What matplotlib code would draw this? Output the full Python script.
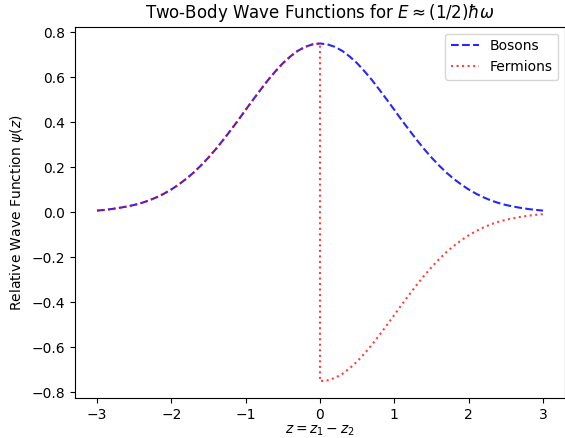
import matplotlib
matplotlib.use("Agg")
import matplotlib.pyplot as plt

# relative coordinate z = z1 - z2, values at 0.1 steps
z_left = [-3.0, -2.9, -2.8, -2.7, -2.6, -2.5, -2.4, -2.3, -2.2, -2.1, -2.0,
          -1.9, -1.8, -1.7, -1.6, -1.5, -1.4, -1.3, -1.2, -1.1, -1.0,
          -0.9, -0.8, -0.7, -0.6, -0.5, -0.4, -0.3, -0.2, -0.1, 0.0]
z_right = [0.0, 0.1, 0.2, 0.3, 0.4, 0.5, 0.6, 0.7, 0.8, 0.9, 1.0,
           1.1, 1.2, 1.3, 1.4, 1.5, 1.6, 1.7, 1.8, 1.9, 2.0,
           2.1, 2.2, 2.3, 2.4, 2.5, 2.6, 2.7, 2.8, 2.9, 3.0]

# symmetric (boson) wave function
psi_left = [0.008, 0.011, 0.015, 0.020, 0.026, 0.033, 0.042, 0.053, 0.067, 0.083, 0.102,
            0.124, 0.149, 0.177, 0.209, 0.244, 0.282, 0.323, 0.366, 0.410, 0.456,
            0.501, 0.545, 0.588, 0.627, 0.663, 0.693, 0.718, 0.736, 0.747, 0.751]
psi_right = [0.751, 0.747, 0.736, 0.718, 0.693, 0.663, 0.627, 0.588, 0.545, 0.501, 0.456,
             0.410, 0.366, 0.323, 0.282, 0.244, 0.209, 0.177, 0.149, 0.124, 0.102,
             0.083, 0.067, 0.053, 0.042, 0.033, 0.026, 0.020, 0.015, 0.011, 0.008]

# antisymmetric (fermion) wave function: same left half, flipped right half
fermion_right = [-0.751, -0.747, -0.736, -0.718, -0.693, -0.663, -0.627, -0.588, -0.545, -0.501, -0.456,
                 -0.410, -0.366, -0.323, -0.282, -0.244, -0.209, -0.177, -0.149, -0.124, -0.102,
                 -0.083, -0.067, -0.053, -0.042, -0.033, -0.026, -0.020, -0.015, -0.011, -0.008]

z_boson = z_left + z_right[1:]
psi_boson = psi_left + psi_right[1:]
z_fermion = z_left + z_right
psi_fermion = psi_left + fermion_right

fig = plt.figure(figsize=(5.65, 4.38), dpi=100)
ax = fig.add_axes([0.1322, 0.0909, 0.8683, 0.8484])

ax.plot(z_boson, psi_boson, "b--", alpha=0.85, label="Bosons")
ax.plot(z_fermion, psi_fermion, "r:", alpha=0.75, label="Fermions")

ax.set_title(r"Two-Body Wave Functions for $E \approx (1/2)\hbar\omega$")
ax.set_xlabel(r"$z = z_1 - z_2$", labelpad=1.5)
ax.set_ylabel(r"Relative Wave Function $\psi(z)$")
ax.legend(loc="upper right")

fig.savefig("out.png", dpi=100)
